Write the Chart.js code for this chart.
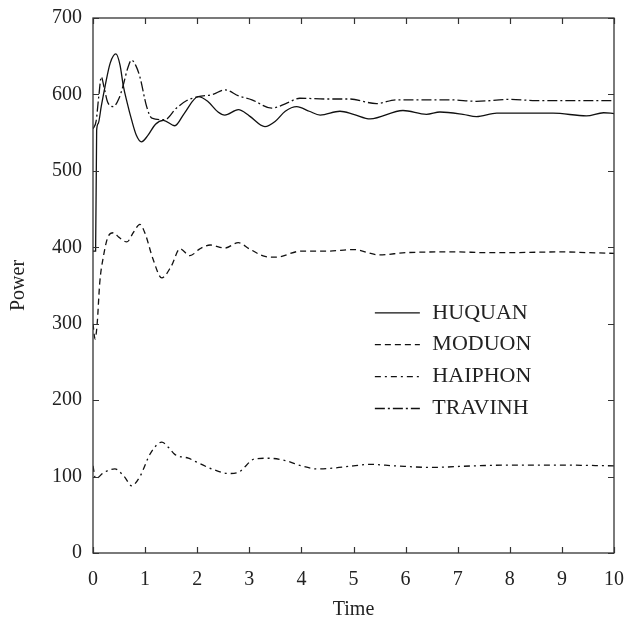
<!DOCTYPE html>
<html><head><meta charset="utf-8">
<script src="https://cdn.jsdelivr.net/npm/chart.js@4.4.1/dist/chart.umd.min.js"></script>
<style>html,body{margin:0;padding:0;background:#fff}#wrap{width:627px;height:622px}</style>
</head><body><div id="wrap"><canvas id="c" width="627" height="622"></canvas></div>
<script>
const seriesNames = ['HUQUAN', 'MODUON', 'HAIPHON', 'TRAVINH'];

const huquanTime  = [0, 0.05, 0.07, 0.1, 0.16, 0.23, 0.33, 0.44, 0.52, 0.58, 0.66, 0.74, 0.83, 0.93, 1.05, 1.2, 1.35, 1.57, 1.75, 2.02, 2.2, 2.4, 2.53, 2.79, 3.0, 3.3, 3.5, 3.69, 3.91, 4.15, 4.36, 4.74, 5.0, 5.32, 5.95, 6.4, 6.66, 7.1, 7.36, 7.75, 8.3, 8.83, 9.47, 9.8, 10];
const huquanPower = [395, 395, 553, 562, 585, 610, 641, 653, 638, 612, 588, 567, 547, 538, 546, 561, 566, 559, 575, 597, 591, 577, 573, 580, 572, 558, 565, 578, 584, 578, 573, 578, 574, 568, 579, 574, 577, 574, 571, 575.5, 575.5, 575.5, 572, 576, 575];

const moduonTime  = [0, 0.04, 0.08, 0.13, 0.2, 0.29, 0.39, 0.5, 0.65, 0.78, 0.9, 1.0, 1.15, 1.32, 1.5, 1.67, 1.86, 2.05, 2.25, 2.53, 2.79, 3.0, 3.3, 3.5, 4.0, 4.5, 5.0, 5.5, 6.0, 7.0, 7.5, 8.0, 9.0, 9.5, 10];
const moduonPower = [300, 280, 300, 354, 388, 414, 419, 413, 407, 420, 430, 418, 385, 360, 375, 398, 389, 398, 403, 399, 406, 398, 388, 387, 395, 395, 397, 390, 393, 394, 393, 393, 394, 393, 392];

const haiphonTime  = [0, 0.05, 0.2, 0.42, 0.6, 0.74, 0.9, 1.1, 1.32, 1.45, 1.57, 1.83, 2.05, 2.28, 2.6, 2.8, 3.1, 3.37, 3.69, 4.0, 4.3, 4.6, 5.0, 5.3, 5.8, 6.5, 7.3, 8.0, 9.0, 10];
const haiphonPower = [114, 97, 105, 110, 100, 88, 100, 130, 145, 138, 129, 124, 117, 110, 104, 106, 123, 124, 121, 114, 110, 111, 114, 116, 114, 112, 114, 115, 115, 114];

const travinhTime  = [0, 0.06, 0.11, 0.16, 0.21, 0.28, 0.39, 0.5, 0.58, 0.66, 0.74, 0.82, 0.9, 1.03, 1.13, 1.38, 1.6, 1.8, 2.02, 2.3, 2.53, 2.8, 3.05, 3.43, 3.7, 3.97, 4.5, 4.93, 5.44, 5.82, 6.4, 6.85, 7.36, 8.0, 8.5, 9.0, 9.5, 10];
const travinhPower = [555, 565, 597, 623, 610, 590, 584, 595, 612, 633, 645, 638, 623, 584, 569, 567, 582, 592, 597, 600, 606, 598, 593, 582, 588, 595, 594, 594, 588, 593, 593, 593, 591, 593.5, 592, 592, 592, 592];

const xTickValues = [0, 1, 2, 3, 4, 5, 6, 7, 8, 9, 10];
const yTickValues = [0, 100, 200, 300, 400, 500, 600, 700];
const xTitle = 'Time';
const yTitle = 'Power';

const dashes = [[], [6, 4], [6, 4, 2, 4], [10, 3, 2, 3]];
const times = [huquanTime, moduonTime, haiphonTime, travinhTime];
const powers = [huquanPower, moduonPower, haiphonPower, travinhPower];

const FONT = "'Liberation Serif', 'Times New Roman', serif";
const INK = '#111';

const datasets = seriesNames.map((name, i) => ({
  label: name,
  data: times[i].map((t, k) => ({x: t, y: powers[i][k]})),
  borderColor: INK,
  borderWidth: 1.3,
  borderDash: dashes[i],
  pointRadius: 0,
  fill: false,
  cubicInterpolationMode: 'monotone'
}));

const framePlugin = {
  id: 'frame',
  afterDraw(chart) {
    const {ctx, chartArea: a, scales: {x, y}} = chart;
    ctx.save();
    ctx.strokeStyle = '#333';
    ctx.lineWidth = 1.3;
    ctx.setLineDash([]);
    ctx.strokeRect(a.left, a.top, a.right - a.left, a.bottom - a.top);
    ctx.lineWidth = 1.2;
    ctx.beginPath();
    const L = 6;
    xTickValues.forEach(v => {
      const px = Math.round(x.getPixelForValue(v)) + 0.5;
      ctx.moveTo(px, a.bottom); ctx.lineTo(px, a.bottom - L);
      ctx.moveTo(px, a.top); ctx.lineTo(px, a.top + L);
    });
    yTickValues.forEach(v => {
      const py = Math.round(y.getPixelForValue(v)) + 0.5;
      ctx.moveTo(a.left, py); ctx.lineTo(a.left + L, py);
      ctx.moveTo(a.right, py); ctx.lineTo(a.right - L, py);
    });
    ctx.stroke();

    // legend
    const lx0 = a.left + (a.right - a.left) * 0.541;
    const lx1 = lx0 + 45;
    const tx = lx1 + 12.5;
    const y0 = a.top + (a.bottom - a.top) * 0.551;
    const dy = 31.9;
    ctx.font = '22px ' + FONT;
    ctx.textBaseline = 'middle';
    ctx.textAlign = 'left';
    seriesNames.forEach((name, i) => {
      const yy = y0 + i * dy;
      ctx.strokeStyle = INK;
      ctx.lineWidth = 1.3;
      ctx.setLineDash(dashes[i]);
      ctx.beginPath();
      ctx.moveTo(lx0, yy); ctx.lineTo(lx1, yy);
      ctx.stroke();
      ctx.setLineDash([]);
      ctx.fillStyle = '#222';
      ctx.fillText(name, tx, yy);
    });
    ctx.restore();
  }
};

new Chart(document.getElementById('c'), {
  type: 'line',
  data: {datasets},
  options: {
    responsive: false,
    devicePixelRatio: 1,
    animation: false,
    layout: {padding: {top: 18, right: 13, left: 0, bottom: 0}},
    plugins: {legend: {display: false}, tooltip: {enabled: false}},
    scales: {
      x: {
        type: 'linear', min: 0, max: 10,
        grid: {display: false, drawTicks: false},
        border: {display: false},
        afterBuildTicks: s => { s.ticks = xTickValues.map(v => ({value: v})); },
        ticks: {color: '#222', font: {family: FONT, size: 20}, padding: 15, maxRotation: 0, autoSkip: false},
        title: {display: true, text: xTitle, color: '#222', font: {family: FONT, size: 20}, padding: {top: 0, bottom: 0}},
        afterFit: s => { s.height = 69; s.paddingLeft = 0; s.paddingRight = 0; }
      },
      y: {
        type: 'linear', min: 0, max: 700,
        grid: {display: false, drawTicks: false},
        border: {display: false},
        afterBuildTicks: s => { s.ticks = yTickValues.map(v => ({value: v})); },
        ticks: {color: '#222', font: {family: FONT, size: 20}, padding: 11, autoSkip: false},
        title: {display: true, text: yTitle, color: '#222', font: {family: FONT, size: 20}, padding: {top: 7, bottom: 0}},
        afterFit: s => { s.width = 93; s.paddingTop = 0; s.paddingBottom = 0; }
      }
    }
  },
  plugins: [framePlugin]
});
</script></body></html>
